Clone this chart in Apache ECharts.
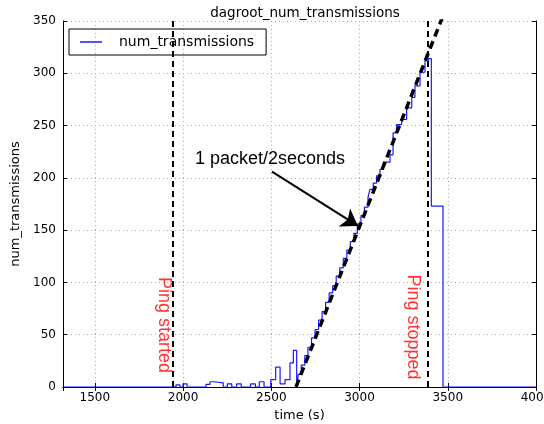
<!DOCTYPE html>
<html>
<head>
<meta charset="utf-8">
<script src="https://cdn.jsdelivr.net/npm/echarts@6/dist/echarts.min.js"></script>
<style>
  html, body { margin: 0; padding: 0; background: #fff; }
  #chart { width: 544px; height: 424px; }
</style>
</head>
<body>
<div id="chart"></div>
<script>
// step data (time in s, value holds until next time)
const times = [1320, 1960, 1983, 2000, 2023, 2130, 2153, 2177, 2228, 2251, 2276, 2304, 2330, 2383, 2410, 2432, 2459,
  2497, 2525, 2550, 2578, 2606, 2625, 2644,
  2653, 2670, 2690, 2708, 2728, 2748, 2768, 2788, 2808, 2828, 2848, 2868, 2888, 2908, 2928, 2948, 2968, 2988,
  3008, 3028, 3048, 3059, 3078, 3097, 3116, 3135, 3173, 3190, 3210, 3239, 3267, 3296, 3314, 3343, 3371, 3390,
  3407, 3473, 4000];
const numTransmissions = [0, 2, 0, 3, 0, 2.5, 5, 4, 0, 3, 0, 3, 0, 3, 0, 5, 0,
  7, 19, 3, 7, 23, 35, 0,
  12, 21, 30, 38, 47, 55, 64, 72, 81, 90, 97, 106, 114, 123, 131, 139, 147, 156,
  164, 172, 181, 189, 195, 202, 208, 215, 222, 243, 251, 256, 267, 277, 288, 301, 312, 314,
  173, 0, 0];

// dashed fit line and markers
const fitTimes = [2640, 3478];
const fitValues = [0, 357];
const pingStarted = 1940;
const pingStopped = 3386;
const arrowFrom = [2504, 206];
const arrowTo = [2991, 154];

const chart = echarts.init(document.getElementById('chart'));

const tickFont = { fontFamily: 'DejaVu Sans', fontSize: 12, color: '#000', formatter: v => String(v) };
const gridLine = { show: true, lineStyle: { color: '#aaa', type: [1, 3], width: 1 } };

const option = {
    animation: false,
    backgroundColor: '#fff',
    title: {
        text: 'dagroot_num_transmissions',
        left: 300,
        top: 1,
        textAlign: 'center',
        textStyle: { fontFamily: 'DejaVu Sans', fontSize: 13.5, fontWeight: 'normal', color: '#000' }
    },
    legend: {
        data: ['num_transmissions'],
        left: 69,
        top: 29,
        icon: 'rect',
        itemWidth: 22,
        itemHeight: 1.5,
        padding: [6, 12, 6, 11],
        borderColor: '#000',
        borderWidth: 1,
        borderRadius: 0,
        textStyle: { fontFamily: 'DejaVu Sans', fontSize: 14, color: '#000', padding: [0, 0, 0, 12] }
    },
    grid: { left: 63, right: 8, top: 21, bottom: 37, outerBoundsMode: 'none', containLabel: false },
    xAxis: [{
        type: 'value',
        min: 1320,
        max: 4000,
        name: 'time (s)',
        nameLocation: 'middle',
        nameGap: 19,
        nameTextStyle: { fontFamily: 'DejaVu Sans', fontSize: 13, color: '#000' },
        axisLine: { lineStyle: { color: '#000', width: 1 } },
        axisTick: { inside: true, length: 4, lineStyle: { color: '#000' } },
        axisLabel: Object.assign({ margin: 5, showMinLabel: false }, tickFont),
        splitLine: gridLine
    }, {
        type: 'value',
        position: 'top',
        min: 1320,
        max: 4000,
        axisLine: { show: true, lineStyle: { color: '#000', width: 1 } },
        axisTick: { inside: true, length: 4, lineStyle: { color: '#000' } },
        axisLabel: { show: false },
        splitLine: { show: false }
    }],
    yAxis: [{
        type: 'value',
        min: 0,
        max: 350,
        interval: 50,
        name: 'num_transmissions',
        nameLocation: 'middle',
        nameGap: 39,
        nameTextStyle: { fontFamily: 'DejaVu Sans', fontSize: 13, color: '#000' },
        axisLine: { show: true, lineStyle: { color: '#000', width: 1 } },
        axisTick: { show: true, inside: true, length: 4, lineStyle: { color: '#000' } },
        axisLabel: Object.assign({ margin: 7 }, tickFont),
        splitLine: gridLine
    }, {
        type: 'value',
        position: 'right',
        min: 0,
        max: 350,
        interval: 50,
        axisLine: { show: true, lineStyle: { color: '#000', width: 1 } },
        axisTick: { show: true, inside: true, length: 4, lineStyle: { color: '#000' } },
        axisLabel: { show: false },
        splitLine: { show: false }
    }],
    series: [
        {
            name: 'num_transmissions',
            type: 'line',
            step: 'end',
            symbol: 'none',
            z: 3,
            lineStyle: { color: '#1a1aff', width: 1.2 },
            itemStyle: { color: '#1a1aff' },
            data: times.map((t, i) => [t, numTransmissions[i]])
        },
        {
            name: 'ping',
            type: 'line',
            data: [],
            markLine: {
                silent: true,
                symbol: ['none', 'none'],
                label: { show: false },
                lineStyle: { color: '#000', type: [6, 4], width: 2 },
                data: [{ xAxis: pingStarted }, { xAxis: pingStopped }]
            }
        },
        {
            name: 'fit',
            type: 'line',
            symbol: 'none',
            clip: true,
            z: 4,
            lineStyle: { color: '#000', type: [8, 5], width: 3.5 },
            data: fitTimes.map((t, i) => [t, fitValues[i]]),
            markLine: {
                silent: true,
                symbol: ['none', 'arrow'],
                symbolSize: 16,
                label: { show: false },
                lineStyle: { color: '#000', type: 'solid', width: 2 },
                data: [[{ coord: arrowFrom }, { coord: arrowTo }]]
            }
        }
    ],
    graphic: [
        {
            type: 'text',
            left: 195,
            top: 150,
            style: { text: '1 packet/2seconds', font: '18px "Liberation Sans", Arial, sans-serif', fill: '#000' }
        },
        {
            type: 'text',
            x: 164,
            y: 325,
            rotation: -Math.PI / 2,
            style: { text: 'Ping started', font: '18px "Liberation Sans", Arial, sans-serif', fill: '#ff3333', align: 'center', verticalAlign: 'middle' }
        },
        {
            type: 'text',
            x: 413,
            y: 327,
            rotation: -Math.PI / 2,
            style: { text: 'Ping stopped', font: '18px "Liberation Sans", Arial, sans-serif', fill: '#ff3333', align: 'center', verticalAlign: 'middle' }
        }
    ]
};
chart.setOption(option);
</script>
</body>
</html>
